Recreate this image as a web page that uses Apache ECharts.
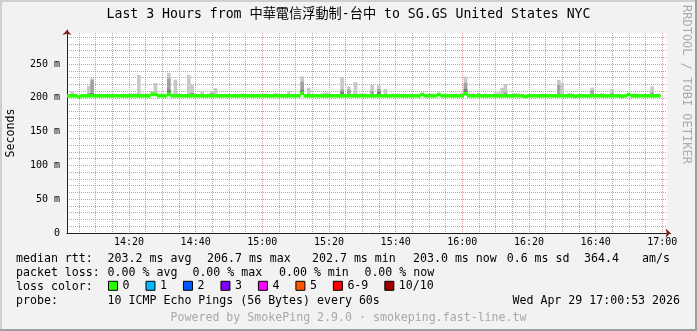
<!DOCTYPE html>
<html><head><meta charset="utf-8">
<script src="https://cdn.jsdelivr.net/npm/echarts@6/dist/echarts.min.js"></script>
<style>html,body{margin:0;padding:0;background:#f2f2f2}#c{width:697px;height:331px}</style>
</head><body><div id="c"></div>
<script>
// ---- data ----
const titleText = 'Last 3 Hours from 中華電信浮動制-台中 to SG.GS United States NYC';
const firstSlotMinute = 1.4;   // minutes after 14:00 of the first 60 s slot
const slotMinutes = 1;
const axisMinMinute = 1.4, axisMaxMinute = 181.4;
const yMax = 296;

const medianRtt = [
203.0,203.0,203.0,201.6,203.0,203.0,203.0,203.2,203.0,203.0,
203.0,203.0,203.0,203.0,203.0,203.0,203.0,203.0,203.0,203.0,
203.0,203.0,203.0,203.0,203.0,205.2,205.0,203.0,203.0,203.0,
205.6,203.0,203.0,203.0,203.0,203.0,203.0,203.0,203.0,203.0,
203.0,203.0,203.0,203.0,203.0,203.0,203.0,203.0,203.0,203.0,
203.0,203.0,203.0,203.0,203.0,203.0,203.0,203.0,203.0,203.0,
203.0,203.0,203.0,203.0,203.0,203.0,203.0,203.0,203.0,203.0,
206.7,203.0,203.0,203.0,203.0,203.0,203.0,203.0,203.0,203.0,
203.0,203.0,203.0,203.0,203.0,203.0,203.0,203.0,203.0,203.0,
203.0,203.0,203.0,203.0,203.0,203.0,203.0,203.0,203.0,203.0,
203.0,203.0,203.0,203.0,203.0,203.0,205.0,203.0,203.0,203.0,
203.0,205.0,203.0,203.0,203.0,203.0,203.0,203.0,203.0,206.0,
203.0,203.0,203.0,203.0,203.0,203.0,203.0,203.0,203.0,203.0,
203.0,203.0,203.0,203.0,203.0,203.0,203.0,202.0,203.0,203.0,
203.0,203.0,203.0,203.0,203.0,203.0,203.0,203.0,203.0,203.0,
203.0,203.0,202.4,203.0,203.0,203.0,203.0,203.0,203.0,203.0,
203.0,203.0,203.0,203.0,203.0,203.0,202.4,203.0,205.0,203.0,
203.0,203.0,203.0,203.0,203.0,203.0,203.0,203.0,null,null
];
const smokeMax = [
204,210,205.5,204,204,204,218,229,205.5,204,
204,204,204,204,204,204,204,204,206.5,206.5,
206.5,234,206.5,204,204,210,222,204,206.5,204,
237,206.5,227,206.5,204,204,234,219,206.5,204,
210,204,206.5,210,214.5,204,204,204,204,204,
204,204,206.5,204,204,204,204,204,204,206.5,
204,204,206.5,204,204,204,210,204,204,204,
232,204,215,204,204,204,206.5,208,208,204,
204,204,231,204,217,206.5,223.5,206.5,206.5,206.5,
204,219,204,219,204,213,204,206.5,204,206.5,
204,204,204,204,204,204,207,204,204,206.5,
204,204,204,206.5,204,204,206.5,204,206.5,231.5,
206.5,206.5,204,206.5,204,206.5,204,204,208,208,
215,220.5,205,204,207,206.5,204,204,204,204,
204,204,206.5,204,204,204,204,226.5,222.5,204,
207,206.5,204,204,204,204,204,215,204,204,
207,205,204,213,204,204,204,204,206.5,204,
206.5,204,204,204,204,217,204,206.5,null,null
];
const smokeMid = [
0,0,0,0,0,0,207,226,0,0,
0,0,0,0,0,0,0,0,0,0,
0,0,0,0,0,0,207,0,0,0,
229,0,0,0,0,0,0,208,0,0,
0,0,0,207,0,0,0,0,0,0,
0,0,0,0,0,0,0,0,0,0,
0,0,0,0,0,0,0,0,0,0,
224,0,0,0,0,0,0,0,0,0,
0,0,212,0,212,0,0,0,0,0,
0,210,0,213,0,0,0,0,0,0,
0,0,0,0,0,0,0,0,0,0,
0,0,0,0,0,0,0,0,0,222,
0,0,0,0,0,0,0,0,0,0,
0,208,0,0,0,0,0,0,0,0,
0,0,0,0,0,0,0,219,0,0,
0,0,0,0,0,0,0,211,0,0,
0,0,0,207,0,0,0,0,0,0,
0,0,0,0,0,208,0,0,0,0
];
const smokeLow = [
0,0,0,0,0,0,205,207,0,0,
0,0,0,0,0,0,0,0,0,0,
0,0,0,0,0,0,0,0,0,0,
212,0,0,0,0,0,0,206,0,0,
0,0,0,0,0,0,0,0,0,0,
0,0,0,0,0,0,0,0,0,0,
0,0,206,0,0,0,0,0,0,0,
212,0,0,0,0,0,0,0,0,0,
0,0,209,0,0,0,0,0,0,0,
0,0,0,209,0,0,0,0,0,0,
0,0,0,0,0,0,0,0,0,0,
0,0,0,0,0,0,0,0,206,213,
0,0,0,206,0,0,0,0,0,0,
0,0,0,0,0,0,0,0,0,0,
0,0,0,0,0,0,0,0,0,0,
0,0,0,0,0,0,0,0,0,0,
0,0,0,0,0,0,0,0,0,0,
0,0,0,0,0,0,0,0,0,0
];

const lossLabels = ['0','1','2','3','4','5','6-9','10/10'];
const lossColors = ['#26ff00','#00b8ff','#0059ff','#7e00ff','#ff00ff','#ff5500','#ff0000','#a10000'];

const rttStatNames = ['avg','max','min','now'];
const rttStatValues = [203.2, 206.7, 202.7, 203.0];
const rttSd = 0.6;
const amPerSec = 364.4;
const lossStatNames = ['avg','max','min','now'];
const lossStatValues = [0.00, 0.00, 0.00, 0.00];
const probeText = '10 ICMP Echo Pings (56 Bytes) every 60s';
const dateText = 'Wed Apr 29 17:00:53 2026';
const poweredText = 'Powered by SmokePing 2.9.0 · smokeping.fast-line.tw';
const watermarkText = 'RRDTOOL / TOBI OETIKER';

// ---- build ----
const slots = [];
medianRtt.forEach((m, i) => {
  if (m == null) return;
  const t0 = firstSlotMinute + i * slotMinutes;
  slots.push([t0, t0 + slotMinutes, m, smokeMax[i], smokeMid[i], smokeLow[i]]);
});

const MONO = "'DejaVu Sans Mono','Noto Sans CJK TC',monospace";
const fs = 11.6;
const font = fs + 'px ' + MONO;

function renderSmoke(params, api) {
  const x0 = api.coord([api.value(0), 0])[0];
  const x1 = api.coord([api.value(1), 0])[0];
  const med = api.value(2);
  const yMed = api.coord([0, med])[1];
  const layers = [[3, '#c8c8c8'], [4, '#a2a2a2'], [5, '#7c7c7c']];
  const children = [];
  layers.forEach(function (l) {
    const v = api.value(l[0]);
    if (v && v > med) {
      const yTop = api.coord([0, v])[1];
      children.push({type: 'rect', shape: {x: x0, y: yTop, width: x1 - x0 + 0.3, height: yMed - yTop},
        style: {fill: l[1]}});
    }
  });
  return {type: 'group', children: children};
}
function renderMedian(params, api) {
  const x0 = api.coord([api.value(0), 0])[0];
  const x1 = api.coord([api.value(1), 0])[0];
  const y = api.coord([0, api.value(2)])[1];
  return {type: 'rect', shape: {x: x0, y: y - 1.8, width: x1 - x0 + 0.4, height: 3.6},
    style: {fill: lossColors[0]}};
}
function fmtTime(v) {
  const total = Math.round(v);
  const h = 14 + Math.floor(total / 60), m = total % 60;
  return h + ':' + (m < 10 ? '0' : '') + m;
}

const gridLineMinor = {color: 'rgba(143,143,143,0.75)', type: [1, 1], width: 1};
const gridLineMajor = {color: 'rgba(222,79,79,0.6)', type: [1, 1], width: 1};

const texts = [];
function addText(x, y, text, opts) {
  texts.push(Object.assign({type: 'text', x: x, y: y, silent: true,
    style: Object.assign({text: text, font: font, fill: '#000', align: 'left', verticalAlign: 'middle'}, opts || {})}));
}
addText(348.5, 15, titleText, {font: '13.2px ' + MONO, align: 'center'});
addText(16, 259, 'median rtt:');
const rttX = [107.6, 207, 312, 413];
rttStatValues.forEach((v, i) => addText(rttX[i], 259, v.toFixed(1) + ' ms ' + rttStatNames[i]));
addText(506.7, 259, rttSd.toFixed(1) + ' ms sd');
addText(584, 259, amPerSec.toFixed(1));
addText(642, 259, 'am/s');
addText(16, 273, 'packet loss:');
const lossX = [107.6, 192.4, 279, 364.4];
lossStatValues.forEach((v, i) => addText(lossX[i], 273, v.toFixed(2) + ' % ' + lossStatNames[i]));
addText(16, 287, 'loss color:');
addText(16, 301, 'probe:');
addText(107.6, 301, probeText);
addText(680, 301, dateText, {align: 'right'});
addText(348.5, 318, poweredText, {align: 'center', fill: '#a8a8a8'});
texts.push({type: 'text', x: 686, y: 5, rotation: -Math.PI / 2, silent: true,
  style: {text: watermarkText, font: '12px ' + MONO, fill: '#ababab', align: 'left', verticalAlign: 'middle'}});
// frame
texts.push({type: 'rect', silent: true, shape: {x: 0, y: 0, width: 697, height: 2}, style: {fill: '#cfcfcf'}});
texts.push({type: 'rect', silent: true, shape: {x: 0, y: 0, width: 2, height: 331}, style: {fill: '#cfcfcf'}});
texts.push({type: 'rect', silent: true, shape: {x: 695, y: 0, width: 2, height: 331}, style: {fill: '#9e9e9e'}});
texts.push({type: 'rect', silent: true, shape: {x: 0, y: 329, width: 697, height: 2}, style: {fill: '#9e9e9e'}});

const hidden = {show: false};
const plainAxis = (gi, type, extra) => Object.assign({
  type: 'value', gridIndex: gi, axisLabel: hidden, axisTick: hidden, splitLine: hidden
}, extra);

const option = {
  animation: false,
  backgroundColor: '#f2f2f2',
  grid: [
    {left: 67, right: 30, top: 33, bottom: 98, show: true, backgroundColor: '#ffffff', borderWidth: 0, outerBoundsMode: 'none'},
    {left: 67, right: 26.5, top: 30, bottom: 98, outerBoundsMode: 'none'},
    {left: 67, right: 26.5, top: 30, bottom: 98, outerBoundsMode: 'none'}
  ],
  xAxis: [
    {type: 'value', gridIndex: 0, min: axisMinMinute, max: axisMaxMinute, splitNumber: 9, minInterval: 20, maxInterval: 20,
     axisLine: hidden, axisTick: hidden,
     axisLabel: {formatter: fmtTime, fontFamily: MONO, fontSize: 10, color: '#000', margin: 4, showMinLabel: false, showMaxLabel: false},
     splitLine: {show: true, lineStyle: gridLineMajor, showMinLine: false, showMaxLine: false},
     minorTick: {show: false, splitNumber: 4},
     minorSplitLine: {show: true, lineStyle: gridLineMinor}},
    plainAxis(1, 'value', {min: 0, max: 1, axisLine: {show: true, lineStyle: {color: '#1f1f1f', width: 1}}}),
    plainAxis(2, 'value', {min: 0, max: 1, axisLine: {show: true, symbol: ['none', 'arrow'], symbolSize: [7, 5],
      lineStyle: {color: '#801f1f', opacity: 0}}})
  ],
  yAxis: [
    {type: 'value', gridIndex: 0, min: 0, max: yMax, interval: 50,
     axisLine: hidden, axisTick: hidden,
     name: 'Seconds', nameLocation: 'middle', nameRotate: 90, nameGap: 50,
     nameTextStyle: {fontFamily: MONO, fontSize: fs, color: '#000'},
     axisLabel: {formatter: v => v === 0 ? '0' : v + ' m', fontFamily: MONO, fontSize: 10, color: '#000', margin: 7, showMaxLabel: false},
     splitLine: {show: true, lineStyle: gridLineMajor, showMinLine: false, showMaxLine: false},
     minorTick: {show: false, splitNumber: 5},
     minorSplitLine: {show: true, lineStyle: gridLineMinor}},
    plainAxis(1, 'value', {min: 0, max: 1, axisLine: {show: true, lineStyle: {color: '#1f1f1f', width: 1}}}),
    plainAxis(2, 'value', {min: 0, max: 1, axisLine: {show: true, symbol: ['none', 'arrow'], symbolSize: [7, 5],
      lineStyle: {color: '#801f1f', opacity: 0}}})
  ],
  legend: {
    data: lossLabels, left: 108, top: 280, itemWidth: 9, itemHeight: 9, itemGap: 16, padding: 0,
    icon: 'rect', selectedMode: false,
    itemStyle: {borderColor: '#000', borderWidth: 1},
    textStyle: {fontFamily: MONO, fontSize: fs, color: '#000'}
  },
  series: [
    {type: 'custom', name: 'smoke', xAxisIndex: 0, yAxisIndex: 0, clip: true, silent: true,
     renderItem: renderSmoke, encode: {x: [0, 1], y: [2, 3]}, data: slots},
    {type: 'custom', name: lossLabels[0], xAxisIndex: 0, yAxisIndex: 0, clip: true, silent: true,
     itemStyle: {color: lossColors[0]},
     renderItem: renderMedian, encode: {x: [0, 1], y: 2}, data: slots}
  ].concat(lossLabels.slice(1).map((name, i) => ({
    type: 'line', name: name, xAxisIndex: 0, yAxisIndex: 0, data: [],
    itemStyle: {color: lossColors[i + 1]}, lineStyle: {color: lossColors[i + 1]}
  }))),
  graphic: {elements: texts}
};

const chart = echarts.init(document.getElementById('c'), null, {renderer: 'canvas'});
chart.setOption(option);
</script></body></html>
